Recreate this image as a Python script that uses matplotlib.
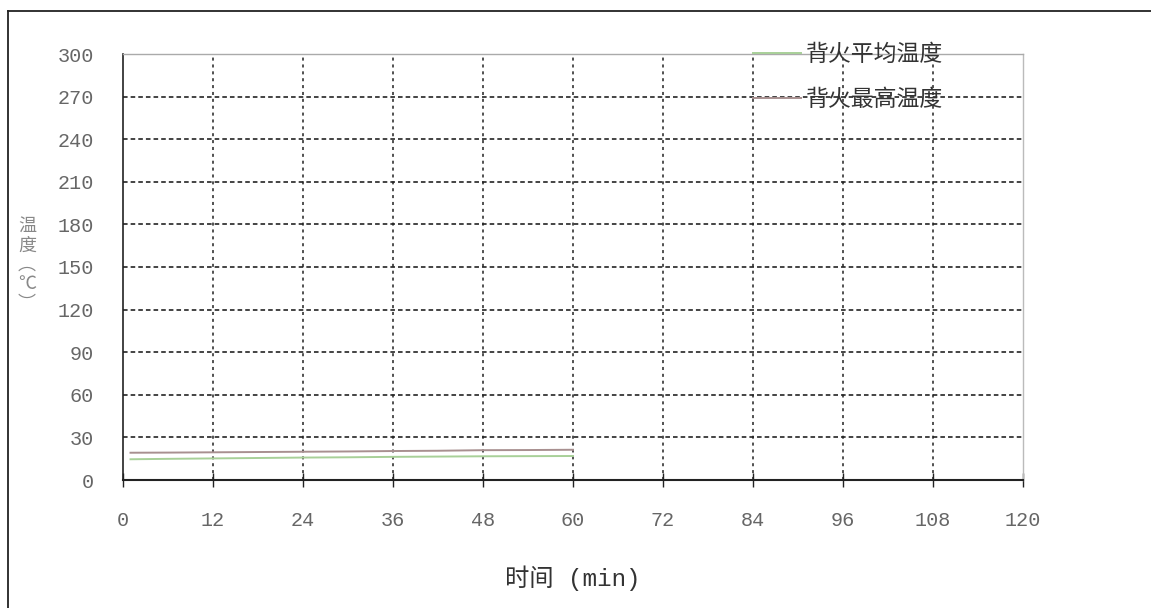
import matplotlib
matplotlib.use("Agg")
import matplotlib.pyplot as plt
from matplotlib.lines import Line2D

plt.rcParams['font.family'] = ['Noto Sans CJK SC', 'DejaVu Sans']

# Data
time_min = [1, 6, 12, 18, 24, 30, 36, 42, 48, 54, 60]
max_temp = [19.2, 19.3, 19.5, 19.7, 19.9, 20.1, 20.4, 20.6, 21.0, 21.1, 21.3]
avg_temp = [14.6, 14.9, 15.2, 15.5, 15.8, 16.0, 16.3, 16.5, 16.7, 16.8, 16.9]
x_ticks = [0, 12, 24, 36, 48, 60, 72, 84, 96, 108, 120]
y_ticks = [0, 30, 60, 90, 120, 150, 180, 210, 240, 270, 300]
series_names = ['背火平均温度', '背火最高温度']
x_label = '时间 (min)'
y_label = '温\n度\n︵\n℃\n︶'

fig = plt.figure(figsize=(11.51, 6.08), dpi=100)
ax = fig.add_axes([123/1151, 1-480/608, 900/1151, 426/608])

ax.plot(time_min, avg_temp, color='#a8d098', lw=1.4, label=series_names[0])
ax.plot(time_min, max_temp, color='#a89090', lw=1.4, label=series_names[1])

ax.set_xlim(0, 120)
ax.set_ylim(0, 300)
ax.set_xticks(x_ticks)
ax.set_yticks(y_ticks)
ax.set_xticklabels([str(v) for v in x_ticks], family='Liberation Mono', fontsize=14.5, color='#666666')
ax.set_yticklabels([str(v) for v in y_ticks], family='Liberation Mono', fontsize=14.5, color='#666666')
ax.tick_params(axis='x', direction='inout', length=10, width=1, pad=17, color='#222222')
ax.tick_params(axis='y', direction='inout', length=0, pad=21)

for v in y_ticks[1:-1]:
    ax.axhline(v, color='#111111', lw=1.1, ls=(0, (3, 2)), zorder=0)
for v in x_ticks[1:-1]:
    ax.axvline(v, color='#222222', lw=1.1, ls=(0, (2, 2.5)), zorder=0)

ax.spines['left'].set_color('#222222')
ax.spines['bottom'].set_color('#222222')
ax.spines['left'].set_linewidth(1.2)
ax.spines['bottom'].set_linewidth(1.5)
ax.spines['top'].set_color('#aaaaaa')
ax.spines['right'].set_color('#bbbbbb')
ax.spines['top'].set_linewidth(1.0)
ax.spines['right'].set_linewidth(1.0)

ax.set_xlabel(x_label, fontsize=17.5, color='#333333', labelpad=26,
              family=['Liberation Mono', 'Noto Sans CJK SC'])
fig.text(27/1151, 1-265/608, y_label, fontsize=13, color='#888888',
         ha='center', va='center', linespacing=1.1)

leg = ax.legend(loc='upper left', bbox_to_anchor=(0.69, 1.047), frameon=False,
                fontsize=16.5, handlelength=2.1, handletextpad=0.2, labelspacing=0.95,
                borderaxespad=0)
for t in leg.get_texts():
    t.set_color('#333333')

# scanned page frame
fig.add_artist(Line2D([8/1151, 1.0], [1-11/608, 1-11/608], transform=fig.transFigure, color='#222222', lw=1.3))
fig.add_artist(Line2D([8/1151, 8/1151], [0.0, 1-11/608], transform=fig.transFigure, color='#222222', lw=1.3))

fig.savefig('out.png', dpi=100, facecolor='white')
